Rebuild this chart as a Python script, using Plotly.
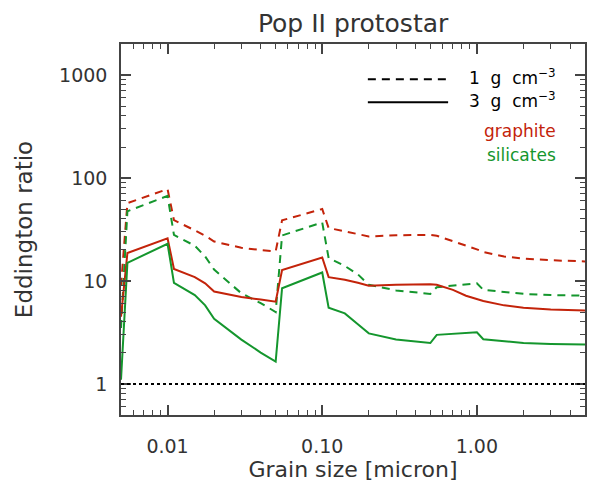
import plotly.graph_objects as go

# Grain size [micron]
grain_size = [0.005, 0.0055, 0.01, 0.011, 0.015, 0.0175, 0.02, 0.03, 0.04, 0.05,
              0.055, 0.1, 0.11, 0.14, 0.17, 0.2, 0.3, 0.4, 0.5, 0.55,
              0.7, 0.85, 1.0, 1.1, 1.5, 2.0, 3.0, 5.0]

graphite_1g = [9.0, 57, 78, 39, 31, 27.5, 24.2, 21, 20, 19.4,
               38.8, 50, 32.7, 30.5, 28.5, 27.1, 27.8, 28, 28, 27.5,
               24.5, 22, 20.3, 19.1, 17.3, 16.5, 15.9, 15.5]
graphite_3g = [4.5, 18.7, 26, 13.1, 10.9, 9.5, 7.9, 7.0, 6.6, 6.3,
               12.8, 16.9, 10.9, 10.3, 9.6, 9.0, 9.2, 9.3, 9.3, 9.2,
               8.2, 7.2, 6.7, 6.4, 5.8, 5.5, 5.3, 5.17]
silicates_1g = [3.5, 47.5, 67, 28, 22, 17.3, 12.9, 7.6, 6.1, 5.0,
                27.7, 37, 16.7, 14, 11.6, 9.2, 8.1, 7.7, 7.5, 8.7,
                9.0, 9.3, 9.5, 8.2, 7.8, 7.5, 7.3, 7.2]
silicates_3g = [1.1, 15, 23, 9.6, 7.3, 5.8, 4.3, 2.7, 2.02, 1.65,
                8.5, 12.1, 5.5, 4.85, 3.8, 3.1, 2.7, 2.58, 2.5, 3.0,
                3.07, 3.12, 3.18, 2.72, 2.6, 2.5, 2.45, 2.42]

x_tickvals = [0.01, 0.1, 1.0]
x_ticktext = ["0.01", "0.10", "1.00"]
y_tickvals = [1, 10, 100, 1000]
y_ticktext = ["1", "10", "100", "1000"]

x_minor = [0.006, 0.007, 0.008, 0.009,
           0.02, 0.03, 0.04, 0.05, 0.06, 0.07, 0.08, 0.09,
           0.2, 0.3, 0.4, 0.5, 0.6, 0.7, 0.8, 0.9,
           2, 3, 4]
y_minor = [0.6, 0.7, 0.8, 0.9,
           2, 3, 4, 5, 6, 7, 8, 9,
           20, 30, 40, 50, 60, 70, 80, 90,
           200, 300, 400, 500, 600, 700, 800, 900]

RED = "rgb(195,35,10)"
GREEN = "rgb(20,150,45)"
TXT = "#333333"
FONT = "DejaVu Sans"
DASH = "8px,6px"

fig = go.Figure()
for y, col, dash in [(graphite_1g, RED, DASH), (silicates_1g, GREEN, DASH),
                     (graphite_3g, RED, "solid"), (silicates_3g, GREEN, "solid")]:
    fig.add_trace(go.Scatter(x=grain_size, y=y, mode="lines",
                             line=dict(color=col, width=2, dash=dash),
                             showlegend=False, hoverinfo="skip"))

# dotted line at Eddington ratio = 1
fig.add_shape(type="line", xref="paper", yref="y", x0=0, x1=1, y0=1, y1=1,
              line=dict(color="black", width=2, dash="dot"))

# legend
fig.add_shape(type="line", xref="paper", yref="paper", x0=0.532, x1=0.705, y0=0.905, y1=0.905,
              line=dict(color="black", width=2, dash=DASH))
fig.add_shape(type="line", xref="paper", yref="paper", x0=0.532, x1=0.705, y0=0.843, y1=0.843,
              line=dict(color="black", width=2))
for txt, yy, col in [("1  g  cm<sup>−3</sup>", 0.911, "black"),
                     ("3  g  cm<sup>−3</sup>", 0.848, "black"),
                     ("graphite", 0.766, RED),
                     ("silicates", 0.700, GREEN)]:
    fig.add_annotation(xref="paper", yref="paper", x=0.942, y=yy, text=txt, showarrow=False,
                       xanchor="right", yanchor="middle",
                       font=dict(family=FONT, size=17, color=col))

axis_common = dict(type="log", ticks="inside", mirror="ticks", showline=True, automargin=False,
                   linecolor="#444", linewidth=1.5, tickcolor="#444", ticklen=10, tickwidth=1.5,
                   showgrid=False, zeroline=False,
                   tickfont=dict(family=FONT, size=19, color=TXT))

fig.update_xaxes(range=[-2.30103, 0.69897], tickvals=x_tickvals, ticktext=x_ticktext,
                 ticklabelstandoff=13,
                 minor=dict(tickvals=x_minor, ticks="inside", ticklen=5, tickwidth=1.2,
                            tickcolor="#444", showgrid=False),
                 title=dict(text="Grain size [micron]", font=dict(family=FONT, size=22, color=TXT), standoff=2),
                 **axis_common)
fig.update_yaxes(range=[-0.30103, 3.30103], tickvals=y_tickvals, ticktext=y_ticktext,
                 ticklabelstandoff=8,
                 minor=dict(tickvals=y_minor, ticks="inside", ticklen=5, tickwidth=1.2,
                            tickcolor="#444", showgrid=False),
                 title=dict(text="Eddington ratio", font=dict(family=FONT, size=23, color=TXT), standoff=20),
                 **axis_common)

# page body adds an 8px offset, so margins compensate
fig.update_layout(
    width=595, height=487,
    margin=dict(l=113, r=18, t=36, b=80),
    paper_bgcolor="white", plot_bgcolor="white",
    title=dict(text="Pop II protostar", x=0.58, xanchor="center", y=0.969, yanchor="middle",
               font=dict(family=FONT, size=25, color=TXT)),
)

fig.write_html("out.html")
